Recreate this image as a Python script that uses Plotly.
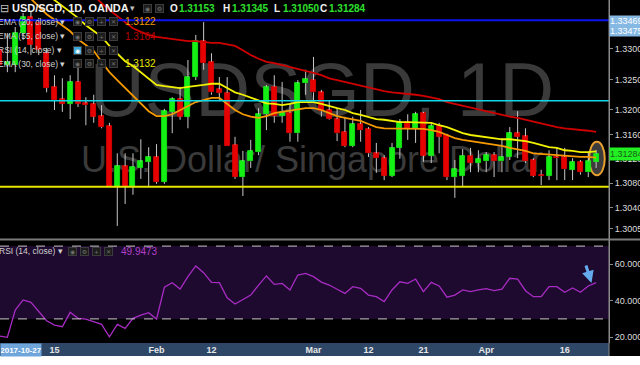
import plotly.graph_objects as go
import pandas as pd

# ---------------- data ----------------
dates = [d.strftime("%Y-%m-%d") for d in pd.bdate_range("2018-01-04", "2018-04-20")]

open_ = [1.3298, 1.3274, 1.3274, 1.3326, 1.3352, 1.3343, 1.3293,
         1.3238, 1.3218, 1.3210, 1.3246, 1.3211, 1.3210, 1.3190, 1.3174, 1.3074, 1.3108,
         1.3074, 1.3105, 1.3115, 1.3123, 1.3082, 1.3197, 1.3218, 1.3189, 1.3254, 1.3313,
         1.3279, 1.3234, 1.3228, 1.3143, 1.3090, 1.3116, 1.3131, 1.3193, 1.3238, 1.3190,
         1.3195, 1.3162, 1.3244, 1.3249, 1.3229, 1.3200, 1.3185, 1.3164, 1.3141, 1.3177,
         1.3169, 1.3129, 1.3121, 1.3092, 1.3138, 1.3180, 1.3169, 1.3195, 1.3125, 1.3174,
         1.3159, 1.3090, 1.3092, 1.3125, 1.3113, 1.3116, 1.3126, 1.3116, 1.3123, 1.3162,
         1.3157, 1.3118, 1.3094, 1.3092, 1.3123, 1.3123, 1.3102, 1.3115, 1.3098, 1.31153]
high = [1.3307, 1.3326, 1.3336, 1.3359, 1.3361, 1.3351, 1.3302,
        1.3257, 1.3252, 1.3257, 1.3277, 1.3221, 1.3225, 1.3208, 1.3179, 1.3129, 1.3129,
        1.3129, 1.3152, 1.3139, 1.3144, 1.3202, 1.3221, 1.3238, 1.3282, 1.3323, 1.3344,
        1.3293, 1.3254, 1.3254, 1.3156, 1.3133, 1.3151, 1.3203, 1.3241, 1.3257, 1.3246,
        1.3211, 1.3249, 1.3266, 1.3287, 1.3233, 1.3216, 1.3203, 1.3189, 1.3189, 1.3200,
        1.3172, 1.3146, 1.3126, 1.3146, 1.3185, 1.3193, 1.3197, 1.3197, 1.3180, 1.3179,
        1.3161, 1.3118, 1.3136, 1.3138, 1.3134, 1.3131, 1.3131, 1.3154, 1.3172, 1.3198,
        1.3170, 1.3121, 1.3102, 1.3134, 1.3138, 1.3138, 1.3121, 1.3118, 1.3131, 1.31345]
low = [1.3266, 1.3262, 1.3262, 1.3315, 1.3290, 1.3290, 1.3229,
       1.3200, 1.3197, 1.3185, 1.3205, 1.3175, 1.3179, 1.3170, 1.3074, 1.3010, 1.3046,
       1.3061, 1.3087, 1.3074, 1.3079, 1.3079, 1.3162, 1.3184, 1.3170, 1.3249, 1.3266,
       1.3225, 1.3216, 1.3141, 1.3087, 1.3059, 1.3105, 1.3126, 1.3167, 1.3179, 1.3179,
       1.3148, 1.3148, 1.3225, 1.3216, 1.3189, 1.3184, 1.3149, 1.3139, 1.3139, 1.3148,
       1.3123, 1.3097, 1.3085, 1.3090, 1.3120, 1.3151, 1.3146, 1.3115, 1.3113, 1.3129,
       1.3085, 1.3056, 1.3075, 1.3098, 1.3098, 1.3098, 1.3090, 1.3098, 1.3118, 1.3121,
       1.3113, 1.3090, 1.3077, 1.3085, 1.3085, 1.3085, 1.3085, 1.3094, 1.3090, 1.31050]
close = [1.3274, 1.3279, 1.3326, 1.3352, 1.3307, 1.3298, 1.3236,
         1.3216, 1.3210, 1.3246, 1.3210, 1.3208, 1.3189, 1.3172, 1.3074, 1.3108, 1.3074,
         1.3107, 1.3116, 1.3123, 1.3082, 1.3198, 1.3218, 1.3189, 1.3254, 1.3313, 1.3277,
         1.3229, 1.3228, 1.3141, 1.3090, 1.3116, 1.3133, 1.3193, 1.3238, 1.3190, 1.3197,
         1.3162, 1.3244, 1.3251, 1.3229, 1.3198, 1.3185, 1.3162, 1.3141, 1.3177, 1.3167,
         1.3129, 1.3121, 1.3092, 1.3138, 1.3180, 1.3169, 1.3193, 1.3125, 1.3174, 1.3156,
         1.3090, 1.3103, 1.3125, 1.3113, 1.3120, 1.3126, 1.3116, 1.3123, 1.3162, 1.3156,
         1.3116, 1.3092, 1.3092, 1.3123, 1.3121, 1.3103, 1.3115, 1.3098, 1.3116, 1.31284]

rsi = [20.6, 19.9, 34.9, 40.4, 39.1, 34.0, 29.0,
       26.6, 25.7, 33.6, 30.3, 29.9, 28.5, 27.0, 20.2, 27.0, 24.8,
       30.3, 32.1, 33.4, 29.9, 47.4, 49.9, 46.4, 53.2, 59.1, 55.4,
       50.1, 49.9, 41.6, 38.2, 40.8, 43.1, 48.6, 53.6, 49.0, 49.5,
       45.9, 54.1, 55.0, 53.2, 50.2, 48.6, 46.3, 44.0, 47.7, 46.8,
       43.1, 42.2, 39.5, 45.9, 50.4, 49.5, 51.9, 45.0, 50.1, 48.1,
       41.9, 43.1, 45.9, 45.0, 45.9, 46.6, 45.5, 46.3, 52.3, 51.8,
       45.5, 42.2, 42.2, 47.7, 47.7, 44.6, 47.0, 44.6, 48.1, 49.9473]

ema20 = [1.3395, 1.3382, 1.3369, 1.3357,
         1.3348, 1.3339, 1.3329, 1.3316, 1.3307, 1.3297, 1.3279, 1.3262, 1.3249, 1.3236,
         1.3223, 1.3210, 1.3198, 1.3190, 1.3190, 1.3193, 1.3200, 1.3206, 1.3213, 1.3216,
         1.3220, 1.3220, 1.3210, 1.3200, 1.3193, 1.3189, 1.3187, 1.3190, 1.3195, 1.3197,
         1.3198, 1.3200, 1.3203, 1.3203, 1.3200, 1.3195, 1.3190, 1.3187, 1.3185, 1.3182,
         1.3177, 1.3172, 1.3170, 1.3170, 1.3170, 1.3170, 1.3170, 1.3169, 1.3167, 1.3164,
         1.3159, 1.3154, 1.3151, 1.3149, 1.3148, 1.3146, 1.3143, 1.3141, 1.3138, 1.3136,
         1.3133, 1.3129, 1.3128, 1.3126, 1.3125, 1.3125, 1.3123, 1.3123, 1.3123, 1.3122]
ema30 = [1.3390,
         1.3380, 1.3370, 1.3361, 1.3351, 1.3339, 1.3329, 1.3320, 1.3305, 1.3292, 1.3280,
         1.3272, 1.3262, 1.3251, 1.3241, 1.3239, 1.3238, 1.3236, 1.3238, 1.3239, 1.3241,
         1.3243, 1.3243, 1.3236, 1.3229, 1.3225, 1.3220, 1.3215, 1.3211, 1.3210, 1.3208,
         1.3210, 1.3213, 1.3213, 1.3213, 1.3210, 1.3206, 1.3203, 1.3200, 1.3195, 1.3192,
         1.3189, 1.3185, 1.3184, 1.3182, 1.3180, 1.3180, 1.3180, 1.3180, 1.3179, 1.3175,
         1.3172, 1.3167, 1.3162, 1.3159, 1.3157, 1.3156, 1.3154, 1.3152, 1.3152, 1.3151,
         1.3149, 1.3146, 1.3143, 1.3139, 1.3138, 1.3134, 1.3133, 1.3131, 1.3131, 1.3132]
ema55 = [1.3388, 1.3375, 1.3364, 1.3354, 1.3344,
         1.3334, 1.3328, 1.3323, 1.3320, 1.3318, 1.3316, 1.3315, 1.3313, 1.3313, 1.3311,
         1.3310, 1.3310, 1.3308, 1.3305, 1.3298, 1.3290, 1.3284, 1.3279, 1.3277, 1.3274,
         1.3270, 1.3267, 1.3264, 1.3261, 1.3257, 1.3252, 1.3249, 1.3246, 1.3243, 1.3239,
         1.3236, 1.3234, 1.3231, 1.3229, 1.3228, 1.3226, 1.3225, 1.3223, 1.3221, 1.3218,
         1.3213, 1.3210, 1.3206, 1.3203, 1.3200, 1.3197, 1.3195, 1.3192, 1.3189, 1.3187,
         1.3184, 1.3180, 1.3177, 1.3175, 1.3172, 1.3170, 1.3169, 1.3167, 1.3166, 1.3164]

price_ticks = [1.3005, 1.304, 1.308, 1.312, 1.316, 1.32, 1.325, 1.33]
price_tick_text = ["1.30050", "1.30400", "1.30800", "1.31200", "1.31600", "1.32000", "1.32500", "1.33000"]
rsi_ticks = [20, 40, 60]
rsi_tick_text = ["20.0000", "40.0000", "60.0000"]
x_tick_dates = ["2018-01-15", "2018-02-01", "2018-02-12", "2018-03-01",
                "2018-03-12", "2018-03-21", "2018-04-02", "2018-04-16"]
x_tick_text = ["15", "Feb", "12", "Mar", "12", "21", "Apr", "16"]

blue_level = 1.33469
cyan_level = 1.3215
yellow_level = 1.3074
rsi_upper, rsi_lower = 70, 30

# ---------------- styling ----------------
W, H = 640, 365
PW, PH = 609, 343          # plot area (pixels)
GREEN = "#14f014"
RED = "#e60000"
FONT = "Liberation Sans"


def px(x):
    return x / PW


def py(y):
    return 1 - y / PH


body_base = [min(o, c) for o, c in zip(open_, close)]
body_len = [abs(c - o) for o, c in zip(open_, close)]
body_col = [GREEN if c >= o else RED for o, c in zip(open_, close)]

wx, wy = [], []
for d, o, h, l, c in zip(dates, open_, high, low, close):
    wx += [d, d, None, d, d, None]
    wy += [h, max(o, c), None, min(o, c), l, None]

fig = go.Figure()

# watermark (base subplot, drawn beneath the price subplot)
fig.add_trace(go.Scatter(x=[322], y=[97], mode="text", text=["USDSGD, 1D"],
                         textfont=dict(size=76, color="#3a3a3a", family=FONT),
                         xaxis="x", yaxis="y", hoverinfo="skip"))
fig.add_trace(go.Scatter(x=[312], y=[163], mode="text", text=["U.S. Dollar/ Singapore Dollar"],
                         textfont=dict(size=36, color="#3a3a3a", family=FONT),
                         xaxis="x", yaxis="y", hoverinfo="skip"))

# candles
fig.add_trace(go.Bar(x=dates, y=body_len, base=body_base,
                     marker=dict(color=body_col, line=dict(color=body_col, width=0.8)),
                     width=0.64, xaxis="x3", yaxis="y3", hoverinfo="skip"))
fig.add_trace(go.Scatter(x=wx, y=wy, mode="lines", line=dict(color="#c8c8c8", width=1),
                         xaxis="x3", yaxis="y3", hoverinfo="skip"))

# EMAs
fig.add_trace(go.Scatter(x=dates[-len(ema55):], y=ema55, mode="lines",
                         line=dict(color="#d00000", width=1.8), xaxis="x3", yaxis="y3"))
fig.add_trace(go.Scatter(x=dates[-len(ema20):], y=ema20, mode="lines",
                         line=dict(color="#f59a00", width=1.8), xaxis="x3", yaxis="y3"))
fig.add_trace(go.Scatter(x=dates[-len(ema30):], y=ema30, mode="lines",
                         line=dict(color="#f2f200", width=1.8), xaxis="x3", yaxis="y3"))

# RSI
fig.add_trace(go.Scatter(x=dates, y=rsi, mode="lines", line=dict(color="#a82cc4", width=1.3),
                         xaxis="x2", yaxis="y2"))

xr = [0.06, 77.64]
axis_common = dict(showgrid=False, zeroline=False)
fig.update_layout(
    width=W, height=H, template="none",
    paper_bgcolor="black", plot_bgcolor="black",
    margin=dict(l=0, r=W - PW, t=0, b=H - PH),
    showlegend=False, bargap=0,
    font=dict(family=FONT, color="#d0d0d0"),
    xaxis=dict(domain=[0, 1], range=[0, PW], visible=False, **axis_common),
    yaxis=dict(domain=[1 - 239 / PH, 1], range=[239, 0], visible=False, **axis_common),
    xaxis3=dict(overlaying="x", anchor="y3", type="category", categoryorder="array",
                categoryarray=dates, range=xr, showticklabels=False, ticks="", **axis_common),
    yaxis3=dict(overlaying="y", anchor="x3", side="right",
                range=[1.33803 - 239 * 0.00016393, 1.33803],
                tickvals=price_ticks, ticktext=price_tick_text, ticks="outside", ticklen=3,
                tickcolor="#8a8a8a", tickfont=dict(size=9, color="#dcdcdc"),
                showline=True, linecolor="#8a8a8a", linewidth=1, **axis_common),
    xaxis2=dict(anchor="y2", domain=[0, 1], type="category", categoryorder="array",
                categoryarray=dates, range=xr, tickvals=x_tick_dates, ticktext=x_tick_text,
                ticks="", tickfont=dict(size=9, color="#e6e6e6", weight="bold"), **axis_common),
    yaxis2=dict(anchor="x2", domain=[0, 1 - 240 / PH], range=[16.76, 73.35], side="right",
                tickvals=rsi_ticks, ticktext=rsi_tick_text, ticks="outside", ticklen=3,
                tickcolor="#8a8a8a", tickfont=dict(size=9, color="#dcdcdc"),
                showline=True, linecolor="#8a8a8a", linewidth=1, **axis_common),
)

shapes = [
    # RSI band and levels
    dict(type="rect", xref="x2 domain", yref="y2", x0=0, x1=1, y0=rsi_lower, y1=rsi_upper,
         fillcolor="#1e0a2e", line=dict(width=0), layer="below"),
    dict(type="line", xref="x2 domain", yref="y2", x0=0, x1=1, y0=rsi_upper, y1=rsi_upper,
         line=dict(color="#c8c8c8", width=1, dash="dash")),
    dict(type="line", xref="x2 domain", yref="y2", x0=0, x1=1, y0=rsi_lower, y1=rsi_lower,
         line=dict(color="#c8c8c8", width=1, dash="dash")),
    # horizontal levels on price
    dict(type="line", xref="paper", yref="y3", x0=0, x1=1, y0=blue_level, y1=blue_level,
         line=dict(color="#0a14f0", width=2)),
    dict(type="line", xref="paper", yref="y3", x0=0, x1=1, y0=cyan_level, y1=cyan_level,
         line=dict(color="#10d8e8", width=1.5)),
    dict(type="line", xref="paper", yref="y3", x0=0, x1=1, y0=yellow_level, y1=yellow_level,
         line=dict(color="#e6e600", width=2)),
    # highlight ellipse on last candle
    dict(type="circle", xref="x3", yref="y3", x0=75.1, x1=77.1, y0=1.3093, y1=1.3148,
         fillcolor="rgba(100,100,100,0.6)", line=dict(color="#e8a030", width=2), layer="below"),
    # pane separator
    dict(type="line", xref="paper", yref="paper", x0=0, x1=W / PW, y0=py(239.5), y1=py(239.5),
         line=dict(color="#7a7a7a", width=2)),
    # time axis band
    dict(type="rect", xref="paper", yref="paper", x0=0, x1=1, y0=py(343), y1=py(356),
         fillcolor="#2e4767", line=dict(width=0), layer="below"),
    dict(type="rect", xref="paper", yref="paper", x0=0, x1=W / PW, y0=py(356), y1=py(366),
         fillcolor="white", line=dict(width=0)),
    dict(type="line", xref="paper", yref="paper", x0=1, x1=1, y0=py(356), y1=1,
         line=dict(color="#8a8a8a", width=1)),
]

annotations = []


def txt(text, x, y, color="#cfcfcf", size=9, bold=False, **kw):
    d = dict(text=("<b>%s</b>" % text) if bold else text, xref="paper", yref="paper",
             x=px(x), y=py(y), xanchor="left", yanchor="middle", showarrow=False,
             borderpad=0, font=dict(size=size, color=color, family=FONT))
    d.update(kw)
    annotations.append(d)


def icon(sym, x, y, bg="#1c1c1c", fg="#707070"):
    annotations.append(dict(text=sym, xref="paper", yref="paper", x=px(x), y=py(y),
                            xanchor="left", yanchor="middle", showarrow=False,
                            width=7, height=7, borderpad=0, borderwidth=1,
                            bordercolor="#3c3c3c", bgcolor=bg,
                            font=dict(size=6, color=fg, family="DejaVu Sans")))


# title row
txt("⊟", -1, 8, color="#bdbdbd", size=11)
txt("USD/SGD, 1D, OANDA", 11, 8, color="#f2f2f2", size=11, bold=True)
txt("▾", 129, 8, color="#bdbdbd", size=9)
icon("◉", 143, 8)
icon("⚙", 155, 8)
ohlc_labels = ["O", "H", "L", "C"]
ohlc_vals = ["%.5f" % open_[-1], "%.5f" % high[-1], "%.5f" % low[-1], "%.5f" % close[-1]]
for lab, val, xx in zip(ohlc_labels, ohlc_vals, [169, 222, 273, 319]):
    txt(lab, xx, 8, color="#f0f0f0", size=10, bold=True)
    txt(val, xx + 9, 8, color="#2ee02e", size=10, bold=True)

# indicator rows
rows = [("EMA (20, close)", 22, "%.4f" % ema20[-1], "#f59a00", False),
        ("EMA (55, close)", 36, "%.4f" % ema55[-1], "#b80000", False),
        ("RSI (14, close)", 50, "", "#a82cc4", True),
        ("EMA (30, close)", 64, "%.4f" % ema30[-1], "#e8e800", False)]
for label, yy, val, col, hl in rows:
    txt(label + " ▾", -3, yy, color="#cfcfcf", size=8.5)
    icon("◉", 73, yy, bg="#3aa6d8" if hl else "#1c1c1c", fg="#ffffff" if hl else "#707070")
    icon("⚙", 85, yy)
    icon("+", 97, yy)
    icon("✕", 109, yy)
    if val:
        txt(val, 124, yy, color=col, size=10)

# RSI row
txt("RSI (14, close) ▾", -2, 251, color="#cfcfcf", size=8.5)
for sym, xx in zip(["◉", "⚙", "+", "✕"], [68, 80, 92, 104]):
    icon(sym, xx, 251)
txt("%.4f" % rsi[-1], 120, 251, color="#b040c8", size=10)

# right-side price tags
annotations.append(dict(text="1.33469", xref="paper", yref="paper", x=1.0, y=py(20.5),
                        xanchor="left", yanchor="middle", showarrow=False, width=31, height=10,
                        borderpad=0, align="left", bgcolor="#86b8e4",
                        font=dict(size=9, color="white", family=FONT)))
annotations.append(dict(text="1.33475", xref="paper", yref="paper", x=1.0, y=py(31),
                        xanchor="left", yanchor="middle", showarrow=False, width=31, height=10,
                        borderpad=0, align="left", bgcolor="#86b8e4",
                        font=dict(size=9, color="white", family=FONT)))
annotations.append(dict(text="%.5f" % close[-1], xref="paper", yref="y3", x=1.0, y=close[-1],
                        xanchor="left", yanchor="middle", showarrow=False, width=31, height=12,
                        borderpad=0, align="left", bgcolor="#22f022",
                        font=dict(size=9, color="#1a5e1a", family=FONT)))
# crosshair date tag
annotations.append(dict(text="<b>2017-10-27</b>", xref="paper", yref="paper", x=0, y=py(349.5),
                        xanchor="left", yanchor="middle", showarrow=False, width=40, height=12,
                        borderpad=0, bgcolor="#6ea6dc",
                        font=dict(size=8, color="white", family=FONT)))
# blue arrow on RSI
annotations.append(dict(text="", xref="paper", yref="paper", x=px(591.5), y=py(283),
                        ax=-6, ay=-19, showarrow=True, arrowhead=2, arrowsize=0.8,
                        arrowwidth=3, arrowcolor="#66aaee"))

fig.update_layout(shapes=shapes, annotations=annotations)
fig.write_html("out.html", config={"displayModeBar": False},
               post_script="document.body.style.margin='0px';document.body.style.overflow='hidden';")
